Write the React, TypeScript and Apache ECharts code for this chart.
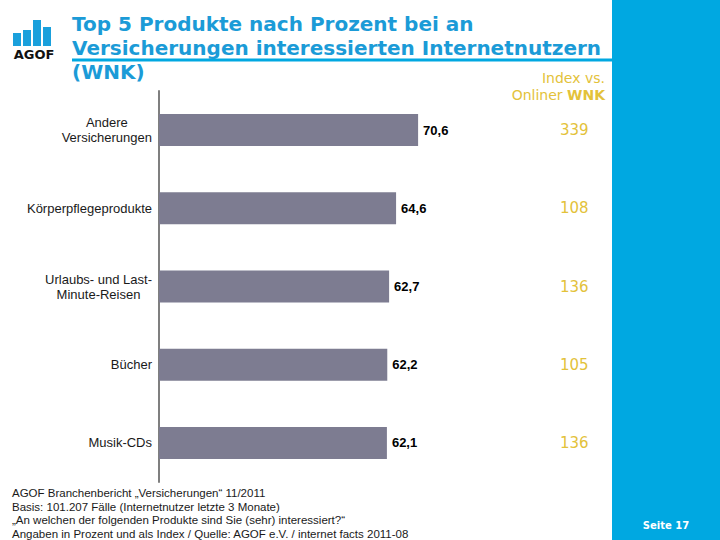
import React, { useEffect, useRef } from "react";
import * as echarts from "echarts";

const categories = [
  "Andere\nVersicherungen",
  "Körperpflegeprodukte",
  "Urlaubs- und Last-\nMinute-Reisen",
  "Bücher",
  "Musik-CDs",
];
const percentValues = [70.6, 64.6, 62.7, 62.2, 62.1];
const indexValues = ["339", "108", "136", "105", "136"];
const titleLines = [
  "Top 5 Produkte nach Prozent bei an",
  "Versicherungen interessierten Internetnutzern",
  "(WNK)",
];
const footerLines = [
  "AGOF Branchenbericht „Versicherungen“ 11/2011",
  "Basis: 101.207 Fälle (Internetnutzer letzte 3 Monate)",
  "„An welchen der folgenden Produkte sind Sie (sehr) interessiert?“",
  "Angaben in Prozent und als Index / Quelle: AGOF e.V. / internet facts 2011-08",
];
const logoBarHeights = [13, 16, 26, 19];

const BLUE = "#00a8e1";
const TITLE_BLUE = "#1b9bd7";
const GOLD = "#e3c23a";
const BAR = "#7d7c91";
const LABEL_FONT = "Liberation Sans";

function measure(text: string, font: string): number {
  const c = document.createElement("canvas");
  const ctx = c.getContext("2d");
  if (!ctx) return text.length * 7;
  ctx.font = font;
  return ctx.measureText(text).width;
}

export default function App() {
  const ref = useRef<HTMLDivElement>(null);
  useEffect(() => {
    if (!ref.current) return;
    const chart = echarts.init(ref.current, undefined, { renderer: "svg" });

    const graphics: any[] = [];
    graphics.push({
      type: "rect",
      shape: { x: 612, y: 0, width: 108, height: 540 },
      style: { fill: BLUE },
      silent: true,
    });
    graphics.push({
      type: "rect",
      shape: { x: 72, y: 58.5, width: 540, height: 3 },
      style: { fill: BLUE },
    });
    logoBarHeights.forEach((h, i) => {
      graphics.push({
        type: "rect",
        shape: { x: 13 + i * 10, y: 46 - h, width: 8, height: h },
        style: { fill: "#1aa0dc" },
      });
    });
    graphics.push({
      type: "text",
      x: 34,
      y: 54,
      style: {
        text: "AGOF",
        fontFamily: "DejaVu Sans",
        fontWeight: "bold",
        fontSize: 13,
        fill: "#111",
        align: "center",
        verticalAlign: "middle",
      },
    });
    titleLines.forEach((t, i) => {
      graphics.push({
        type: "text",
        x: 72,
        y: 24 + i * 24,
        style: {
          text: t,
          fontFamily: "DejaVu Sans",
          fontWeight: "bold",
          fontSize: 20,
          fill: TITLE_BLUE,
          align: "left",
          verticalAlign: "middle",
        },
      });
    });
    graphics.push({
      type: "text",
      x: 605,
      y: 78,
      style: {
        text: "Index vs.",
        fontFamily: "DejaVu Sans",
        fontSize: 14,
        fill: GOLD,
        align: "right",
        verticalAlign: "middle",
      },
    });
    graphics.push({
      type: "text",
      x: 605,
      y: 95,
      style: {
        text: "Onliner {b|WNK}",
        fontFamily: "DejaVu Sans",
        fontSize: 14,
        fill: GOLD,
        align: "right",
        verticalAlign: "middle",
        rich: {
          b: { fontFamily: "DejaVu Sans", fontSize: 14, fontWeight: "bold", fill: GOLD },
        },
      },
    });
    footerLines.forEach((t, i) => {
      graphics.push({
        type: "text",
        x: 12,
        y: 493 + i * 13.5,
        style: {
          text: t,
          fontFamily: LABEL_FONT,
          fontSize: 11.5,
          fill: "#1a1a1a",
          align: "left",
          verticalAlign: "middle",
        },
      });
    });
    graphics.push({
      type: "text",
      x: 666,
      y: 525,
      style: {
        text: "Seite 17",
        fontFamily: "DejaVu Sans",
        fontWeight: "bold",
        fontSize: 10,
        fill: "#ffffff",
        align: "center",
        verticalAlign: "middle",
      },
    });

    chart.setOption({
      animation: false,
      grid: { left: 159, right: 194, top: 91, bottom: 58, containLabel: false },
      xAxis: {
        type: "value",
        min: 0,
        max: 100,
        show: false,
      },
      yAxis: [
        {
          type: "category",
          inverse: true,
          data: categories,
          axisLine: { show: true, lineStyle: { color: "#7f7f7f", width: 2 } },
          axisTick: { show: false },
          axisLabel: { show: false },
        },
        {
          type: "category",
          inverse: true,
          position: "right",
          data: indexValues,
          axisLine: { show: false },
          axisTick: { show: false },
          axisLabel: {
            margin: 34,
            color: GOLD,
            fontFamily: "DejaVu Sans",
            fontSize: 15,
          },
        },
      ],
      series: [
        {
          type: "bar",
          yAxisIndex: 0,
          data: percentValues,
          barWidth: 32,
          itemStyle: { color: BAR },
          label: {
            show: true,
            position: "right",
            distance: 5,
            color: "#000",
            fontFamily: LABEL_FONT,
            fontWeight: "bold",
            fontSize: 13,
            formatter: (p: any) => String(p.value.toFixed(1)).replace(".", ","),
          },
        },
      ],
      graphic: graphics,
    });

    // category labels: block right-aligned against the axis, lines centred within the block
    const labelFont = `13px "${LABEL_FONT}"`;
    const axisX = (chart.convertToPixel({ xAxisIndex: 0 }, 0) as number) - 7;
    const labelGraphics = categories.map((c, i) => {
      const y = chart.convertToPixel({ yAxisIndex: 0 }, c) as number;
      const w = Math.max(...c.split("\n").map((l) => measure(l, labelFont)));
      return {
        type: "text",
        x: axisX - w / 2,
        y,
        style: {
          text: c,
          fontFamily: LABEL_FONT,
          fontSize: 13,
          lineHeight: 15,
          fill: "#1a1a1a",
          align: "center",
          verticalAlign: "middle",
        },
      };
    });
    chart.setOption({ graphic: [...graphics, ...labelGraphics] });

    return () => chart.dispose();
  }, []);
  return (
    <div
      ref={ref}
      style={{ position: "fixed", left: 0, top: 0, width: 720, height: 540, background: "#fff" }}
    />
  );
}
